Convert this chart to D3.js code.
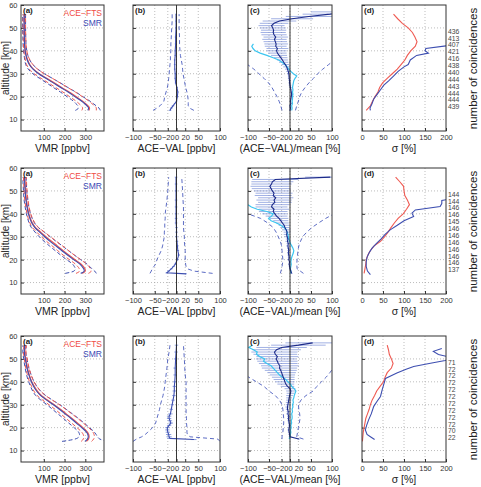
<!DOCTYPE html>
<html>
<head>
<meta charset="utf-8">
<script src="https://cdn.jsdelivr.net/npm/d3@7"></script>
<style>
  body { margin: 0; background: #fff; }
  svg { font-family: "Liberation Sans", Arial, sans-serif; }
</style>
</head>
<body>
<div id="chart"></div>
<script>
// ---- data ----
const altTicks = [10, 20, 30, 40, 50, 60];
const vmrTicks = [100, 200, 300];
const diffTicks = [-100, -50, -20, 0, 20, 50, 100];
const sigTicks = [0, 50, 100, 150, 200];

// (a) profiles and (b) dashed envelopes share this grid
const altA = [14,15,16,17,18,20,22,24,26,28,30,32,34,36,38,40,43,46,50,53,56];

const aceMean1 = [318,320,312,300,287,255,222,186,150,114,78,50,32,22,15,11,8,7,6,6,6];
const smrMean1 = [312,316,308,296,283,250,217,181,146,110,75,48,30,20,14,10,7,6,5,5,5];
const aceSd1   = [35,33,32,31,31,31,30,29,28,27,24,20,15,11,8,7,6,6,6,6,6];
const smrSd1   = [60,50,44,42,40,38,37,35,33,31,28,23,17,12,9,8,7,7,7,7,7];

const aceMean2 = [285,300,298,290,280,250,220,192,165,137,110,85,60,45,35,28,21,16,12,10,9];
const smrMean2 = [278,295,292,284,274,244,214,186,158,130,104,80,57,42,33,26,19,14,10,8,7];
const aceSd2   = [30,28,27,27,27,27,27,26,25,24,22,19,15,12,10,9,8,8,7,7,7];
const smrSd2   = [75,50,40,37,35,34,33,32,31,29,26,22,17,13,11,10,9,9,8,8,8];

const aceMean3 = [305,315,318,316,310,288,262,236,208,180,150,118,88,68,54,42,30,21,13,8,10];
const smrMean3 = [298,310,314,312,306,283,257,231,203,175,146,114,85,65,51,40,28,19,11,6,7];
const aceSd3   = [25,25,26,26,27,28,28,28,27,26,25,23,20,16,13,11,9,8,7,6,6];
const smrSd3   = [110,60,45,40,38,37,37,36,35,33,31,28,24,19,15,13,11,9,8,7,7];

// (b) ACE-VAL [ppbv]
const diffAlt1 = [14,15,16,17,18,20,22,24,26,28,30,32,34,36,38,40,43,46,50,53,56];
const diff1    = [-15,-12,-8,-4,0,2,3,1,-2,-3,-3,-4,-4,-4,-3,-3,-2,-2,-1,-1,-1];
const diffErr1 = [3,3,3,2,2,2,2,2,2,2,2,2,2,2,2,2,2,2,2,2,2];
const diffLo1  = [-54,-45,-38,-33,-29,-27,-24,-21,-19,-18,-17,-16,-15,-14,-14,-13,-13,-12,-11,-10,-10];
const diffHi1  = [40,30,27,27,27,26,24,21,19,17,15,14,13,11,9,8,7,7,6,6,6];

const diffAlt2 = [13.8,14.3,15,16,17,18,20,22,24,26,28,30,32,34,36,38,40,43,46,50,53,56];
const diff2    = [22,-22,-18,-12,-7,-3,2,5,3,2,1,0,0,0,-1,-1,-1,-1,-1,-1,-1,-1];
const diffErr2 = [2,3,3,3,3,3,3,3,3,3,3,3,3,3,3,3,3,3,3,3,3,3];
const diffLo2  = [-61,-58,-56,-52,-48,-45,-40,-35,-32,-30,-28,-28,-27,-27,-26,-26,-24,-22,-20,-19,-18];
const diffHi2  = [83,40,25,22,21,20,20,20,19,18,18,17,16,16,16,16,16,15,14,13,12];

const diffAlt3 = [14.8,15.3,16,17,18,19,20,21,22,23,24,25,26,28,30,32,34,36,38,40,43,46,50,53,56];
const diff3    = [40,-15,-17,-18,-20,-21,-21,-17,-13,-15,-17,-17,-14,-12,-10,-8,-6,-5,-5,-4,-3,-3,-2,-1,0];
const diffErr3 = [6,6,6,6,5,5,5,5,5,5,5,5,5,4,4,4,4,4,4,4,4,4,4,4,4];
const diffLo3  = [-100,-92,-80,-72,-66,-55,-48,-45,-42,-39,-37,-34,-31,-29,-27,-26,-24,-22,-20,-17,-15];
const diffHi3  = [100,95,31,25,24,24,23,23,22,22,22,22,22,22,22,22,20,19,18,17,16];

// (c) (ACE-VAL)/mean [%]
const relAlt1 = [14,15,16,17,18,19,20,21,22,23,24,25,26,27,28,29,30,31,32,33,34,35,36,37,38,39,40,41,42,43,44,45,46,47,48,49,50,51,52,53,54,55,56,57];
const rel1    = [0,1,0,2,1,2,3,4,3,2, 1,0,-1,-1,-2,-2,-3,-4,-6,-8, -11,-15,-18,-22,-26,-30,-32,-30,-34,-33, -35,-37,-34,-38,-40,-39,-41,-44,-38,-25, 5,45,95,125];
const relErr1 = [2,2,2,2,2,2,2,2,2,2, 3,3,3,3,3,3,4,5,6,8, 9,11,13,16,19,22,24,26,26,28, 28,29,29,30,30,30,31,31,34,40, 50,55,65,75];
const relAlt2 = [14,15,16,17,18,19,20,21,22,23,24,25,26,27,28,29,30,31,32,33,34,35,36,37,38,39,40,41,42,43,44,45,46,47,48,49,50,51,52,53,54,55,56];
const rel2    = [4,2,0,-1,-2,-1,-3,-2,-3,-4, -3,-4,-5,-4,-6,-5,-7,-8,-7,-9, -12,-14,-18,-22,-26,-32,-36,-40,-38,-44, -42,-36,-38,-34,-40,-38,-42,-45,-48,-44, -42,-35,96];
const relErr2 = [2,2,2,2,2,2,2,3,3,3, 3,3,4,4,5,5,6,7,8,10, 11,13,15,18,22,26,30,34,36,38, 40,40,42,42,44,44,44,46,46,48, 50,55,60];
const relAlt3 = [15,16,17,18,19,20,21,22,23,24,25,26,27,28,29,30,31,32,33,34,35,36,37,38,39,40,41,42,43,44,45,46,47,48,49,50,51,52,53,54,55,56,57];
const rel3    = [21,0,-1,-2,-3,-2,-1,-2,-3,-4, -3,-5,-4,-6,-6,-5,-4,-3,-2,-1, 1,2,0,-6,-10,-12,-14,-16,-18,-20, -22,-25,-24,-28,-30,-33,-30,-35,-37,-32, -20,20,54];
const relErr3 = [3,3,3,3,3,3,3,3,3,3, 4,4,4,4,5,5,6,6,7,8, 9,11,13,16,20,23,25,27,30,34, 38,42,45,46,48,48,50,52,55,58, 60,65,65];

const cyanAlt1 = [14,15,16,17,18,19,20,21,22,23,24,25,26,27,28,29,30,31,32,33,34,35,36,37,38,39,40,41,42,43];
const cyan1    = [4,5,4,6,5,6,6,7,6,7, 6,7,8,9,12,16,8,2,-3,-7, -12,-19,-27,-40,-55,-71,-83,-88,-91,-87];
const cyanAlt2 = [14,15,16,17,18,19,20,21,22,23,24,25,26,27,28,29,30,31,32,33,34,35,36,37,38,39,40,41,42,43,44];
const cyan2    = [1,2,1,2,3,2,3,4,6,8, 9,7,4,1,-1,-3,-4,-5,-7,-9, -14,-22,-32,-45,-51,-44,-40,-55,-78,-92, -100];
const cyanAlt3 = [15,16,17,18,19,20,21,22,23,24,25,26,27,28,29,30,31,32,33,34,35,36,37,38,39,40,41,42,43,44,45,46,47,48,49,50,51,52,53,54,55,56];
const cyan3    = [-2,0,1,2,1,3,2,4,3,5, 5,4,6,5,7,6,8,7,9,10, 12,14,10,4,1,-5,-10,-18,-25,-30, -35,-40,-45,-55,-63,-60,-72,-80,-78,-87, -98,-90];

const envAlt1 = [14,16,18,20,22,24,26,28,30,32,34,36];
const envLo1  = [-19,-22,-26,-31,-37,-43,-51,-62,-74,-86,-101,-116];
const envHi1  = [13,16,20,23,28,36,45,56,66,78,92,106];
const envAlt2 = [14,16,18,20,22,24,26,28,30,32,34,36,38,40];
const envLo2  = [-23,-20,-18,-17,-18,-19,-20,-23,-28,-33,-40,-53,-70,-100];
const envHi2  = [32,17,16,17,18,19,21,25,30,40,52,68,85,105];
const envAlt3 = [15,16,18,20,22,24,26,28,30,32,34,36,38,40,42,44,46];
const envLo3  = [-19,-19,-17,-16,-15,-15,-16,-17,-19,-25,-35,-50,-62,-80,-98,-115,-130];
const envHi3  = [32,16,18,20,22,24,23,21,20,26,38,55,64,75,86,95,103];

// (d) sigma [%]
const sigAlt  = [14,16,18,20,22,24,26,28,30,32,34,36,38,40,42,44,46,48,50,52,54,56];
const sigAce1 = [10,20,25,31,38,42,49,60,72,84,93,102,108,116,127,131,126,120,110,96,85,75];
const sigAce2 = [5,7,9,10,14,20,29,44,54,62,69,77,86,98,106,113,108,102,100,99,90,80];
const sigAce3 = [1,2,3,5,7,9,13,17,20,24,30,35,43,51,55,60,70,74,70,65,63,60];
const sigSmrAlt1 = [14,15,17,19,21,23,25,27,29,31,33,34,36,38,39,40,41,42.3];
const sigSmr1    = [20,19,24,28,36,44,52,64,75,86,100,110,115,130,158,150,152,205];
const sigSmrAlt2 = [13.5,15,17,19,21,23,25,27,29,31,33,35,37,38.8,40.3,41.7,43.2,44.5,45.8,46.3];
const sigSmr2    = [20,13,10,10,12,17,24,34,45,55,67,84,100,123,119,127,186,190,190,205];
const sigSmrAlt3 = [14.8,16,17,19,21,23.5,26,29.3,31.5,33.6,36.5,39,41.5,43.8,45.5,46.7,48.1,49.3,50.5,51.9,53.3,54.5];
const sigSmr3    = [30,20,12,8,11,16,22,28,36,44,48,52,56,83,105,123,163,198,215,182,170,190];

const coinAlt = [48.5,45.5,42.5,39.5,36.5,33.5,30.5,27.5,24.5,21.5,18.5,15.5];
const coin1 = [436,413,407,421,416,438,440,444,443,444,444,439];
const coin2 = [144,144,146,146,145,146,146,146,146,146,146,137];
const coin3 = [71,72,72,72,72,72,72,72,72,72,70,22];

// ---- layout ----
const rowTop = [5, 168, 336];
const boxH = 126;
const colX = { a: [21, 104], b: [133, 220], c: [248, 332], d: [362, 446] };
const RED = '#ef5a52', BLUE = '#3d4eb0', DASH = '#4a5bbd', NAVY = '#1d2b8a', BAR = '#6f86d6', CYAN = '#3cc6f0';

const svg = d3.select('#chart').append('svg').attr('width', 481).attr('height', 487);

function panel(r, col, domain, ticks, title, letter, showY) {
    const top = rowTop[r];
    const [x0, x1] = colX[col];
    const x = d3.scaleLinear().domain(domain).range([x0, x1]);
    const y = d3.scaleLinear().domain([5, 60]).range([top + boxH, top]);
    const g = svg.append('g');
    const id = 'clip' + r + col;
    svg.append('clipPath').attr('id', id).append('rect')
        .attr('x', x0).attr('y', top).attr('width', x1 - x0).attr('height', boxH);

    g.selectAll('line.gx')
        .data(ticks.filter(t => x(t) > x0 + 1 && x(t) < x1 - 1))
        .join('line').attr('class', 'gx')
        .attr('x1', d => x(d)).attr('x2', d => x(d))
        .attr('y1', top).attr('y2', top + boxH)
        .attr('stroke', '#a0a0a0').attr('stroke-width', 0.7).attr('stroke-dasharray', '1,2');
    g.selectAll('line.gy')
        .data(altTicks.filter(t => t < 60))
        .join('line').attr('class', 'gy')
        .attr('x1', x0).attr('x2', x1)
        .attr('y1', d => y(d)).attr('y2', d => y(d))
        .attr('stroke', '#a0a0a0').attr('stroke-width', 0.7).attr('stroke-dasharray', '1,2');

    const xa = g.append('g').attr('transform', `translate(0,${top + boxH})`)
        .call(d3.axisBottom(x).tickValues(ticks).tickSize(-3).tickPadding(3.5));
    xa.select('.domain').remove();
    xa.attr('font-family', null).attr('font-size', null);
    xa.selectAll('text').attr('font-size', 7.5).attr('fill', '#333');
    xa.selectAll('line').attr('stroke', '#333');

    const ya = g.append('g').attr('transform', `translate(${x0},0)`)
        .call(d3.axisLeft(y).tickValues(altTicks).tickSize(-3).tickPadding(3.5)
            .tickFormat(showY ? d3.format('d') : ''));
    ya.select('.domain').remove();
    ya.attr('font-family', null).attr('font-size', null);
    ya.selectAll('text').attr('font-size', 7.5).attr('fill', '#333');
    ya.selectAll('line').attr('stroke', '#333');

    g.append('text')
        .attr('x', (x0 + x1) / 2).attr('y', top + boxH + 20.5)
        .attr('text-anchor', 'middle').attr('font-size', 10.5).attr('fill', '#222')
        .text(title);

    const plot = g.append('g').attr('clip-path', `url(#${id})`);
    return { g, plot, x, y, top, x0, x1 };
}

function finish(p, letter) {
    p.g.append('rect')
        .attr('x', p.x0).attr('y', p.top).attr('width', p.x1 - p.x0).attr('height', boxH)
        .attr('fill', 'none').attr('stroke', '#333').attr('stroke-width', 1);
    p.g.append('text')
        .attr('x', p.x0 + 2).attr('y', p.top + 8)
        .attr('font-size', 8).attr('font-weight', 'bold').attr('fill', '#222')
        .text(letter);
}

function drawLine(p, alts, vals, color, width, dash, curve) {
    p.plot.append('path')
        .datum(alts.map((a, i) => [a, vals[i]]))
        .attr('d', d3.line().x(d => p.x(d[1])).y(d => p.y(d[0])).curve(curve || d3.curveLinear))
        .attr('fill', 'none').attr('stroke', color).attr('stroke-width', width)
        .attr('stroke-dasharray', dash || null);
}

function errBars(p, alts, vals, errs, color, width, opacity) {
    p.plot.append('g').attr('opacity', opacity || 1).selectAll('line')
        .data(alts.map((a, i) => ({ a, v: vals[i], e: errs[i] })))
        .join('line')
        .attr('x1', d => p.x(d.v - d.e)).attr('x2', d => p.x(d.v + d.e))
        .attr('y1', d => p.y(d.a)).attr('y2', d => p.y(d.a))
        .attr('stroke', color).attr('stroke-width', width);
}

function zeroLine(p) {
    p.g.append('line')
        .attr('x1', p.x(0)).attr('x2', p.x(0)).attr('y1', p.top).attr('y2', p.top + boxH)
        .attr('stroke', '#222').attr('stroke-width', 0.9);
}

const rows = [
    { ace: aceMean1, smr: smrMean1, aceSd: aceSd1, smrSd: smrSd1,
      dAlt: diffAlt1, d: diff1, dErr: diffErr1, dLo: diffLo1, dHi: diffHi1,
      rAlt: relAlt1, r: rel1, rErr: relErr1, cAlt: cyanAlt1, c: cyan1,
      eAlt: envAlt1, eLo: envLo1, eHi: envHi1,
      sAce: sigAce1, sSmrAlt: sigSmrAlt1, sSmr: sigSmr1, coin: coin1 },
    { ace: aceMean2, smr: smrMean2, aceSd: aceSd2, smrSd: smrSd2,
      dAlt: diffAlt2, d: diff2, dErr: diffErr2, dLo: diffLo2, dHi: diffHi2,
      rAlt: relAlt2, r: rel2, rErr: relErr2, cAlt: cyanAlt2, c: cyan2,
      eAlt: envAlt2, eLo: envLo2, eHi: envHi2,
      sAce: sigAce2, sSmrAlt: sigSmrAlt2, sSmr: sigSmr2, coin: coin2 },
    { ace: aceMean3, smr: smrMean3, aceSd: aceSd3, smrSd: smrSd3,
      dAlt: diffAlt3, d: diff3, dErr: diffErr3, dLo: diffLo3, dHi: diffHi3,
      rAlt: relAlt3, r: rel3, rErr: relErr3, cAlt: cyanAlt3, c: cyan3,
      eAlt: envAlt3, eLo: envLo3, eHi: envHi3,
      sAce: sigAce3, sSmrAlt: sigSmrAlt3, sSmr: sigSmr3, coin: coin3 }
];

rows.forEach((row, r) => {
    const top = rowTop[r];
    const smooth = d3.curveMonotoneY;

    // (a) VMR profiles
    const pa = panel(r, 'a', [-10, 390], vmrTicks, 'VMR [ppbv]', '(a)', true);
    drawLine(pa, altA, row.smr.map((v, i) => v - row.smrSd[i]), BLUE, 1, '4,2.5', smooth);
    drawLine(pa, altA, row.smr.map((v, i) => v + row.smrSd[i]), BLUE, 1, '4,2.5', smooth);
    drawLine(pa, altA, row.ace.map((v, i) => v - row.aceSd[i]), RED, 1, '4,2.5', smooth);
    drawLine(pa, altA, row.ace.map((v, i) => v + row.aceSd[i]), RED, 1, '4,2.5', smooth);
    drawLine(pa, altA, row.ace, RED, 1.3, null, smooth);
    drawLine(pa, altA, row.smr, BLUE, 1.1, null, smooth);
    pa.g.append('text').attr('x', pa.x1 - 2).attr('y', top + 10.5)
        .attr('text-anchor', 'end').attr('font-size', 8.5).attr('fill', '#f04a44').text('ACE\u2212FTS');
    pa.g.append('text').attr('x', pa.x1 - 2).attr('y', top + 20.5)
        .attr('text-anchor', 'end').attr('font-size', 8.5).attr('fill', '#3a49b4').text('SMR');
    finish(pa, '(a)');
    svg.append('text')
        .attr('transform', `translate(8.5,${top + 63}) rotate(-90)`)
        .attr('text-anchor', 'middle').attr('font-size', 10).attr('fill', '#222')
        .text('altitude [km]');

    // (b) absolute difference
    const pb = panel(r, 'b', [-100, 100], diffTicks, 'ACE\u2212VAL [ppbv]', '(b)', false);
    drawLine(pb, altA, row.dLo, DASH, 0.9, '4,3');
    drawLine(pb, altA, row.dHi, DASH, 0.9, '4,3');
    errBars(pb, row.dAlt, row.d, row.dErr, BAR, 0.8);
    drawLine(pb, row.dAlt, row.d, BLUE, 1.1);
    zeroLine(pb);
    finish(pb, '(b)');

    // (c) relative difference
    const pc = panel(r, 'c', [-100, 100], diffTicks, '(ACE\u2212VAL)/mean [%]', '(c)', false);
    errBars(pc, row.rAlt, row.r, row.rErr, BAR, 0.8, 0.8);
    drawLine(pc, row.eAlt, row.eLo, DASH, 0.9, '4,3');
    drawLine(pc, row.eAlt, row.eHi, DASH, 0.9, '4,3');
    drawLine(pc, row.cAlt, row.c, CYAN, 1.2);
    drawLine(pc, row.rAlt, row.r, NAVY, 1.1);
    zeroLine(pc);
    finish(pc, '(c)');

    // (d) standard deviations + number of coincidences
    const pd = panel(r, 'd', [0, 200], sigTicks, '\u03c3 [%]', '(d)', false);
    drawLine(pd, sigAlt, row.sAce, RED, 1.1);
    drawLine(pd, row.sSmrAlt, row.sSmr, BLUE, 1.1);
    finish(pd, '(d)');
    pd.g.selectAll('text.coin')
        .data(coinAlt.map((a, i) => ({ a, n: row.coin[i] })))
        .join('text').attr('class', 'coin')
        .attr('x', pd.x1 + 2).attr('y', d => pd.y(d.a) + 2.4)
        .attr('font-size', 6.8).attr('fill', '#444')
        .text(d => d.n);
    svg.append('text')
        .attr('transform', `translate(477,${top + 63.5}) rotate(-90)`)
        .attr('text-anchor', 'middle').attr('font-size', 11.5).attr('fill', '#222')
        .text('number of coincidences');
});
</script>
</body>
</html>
